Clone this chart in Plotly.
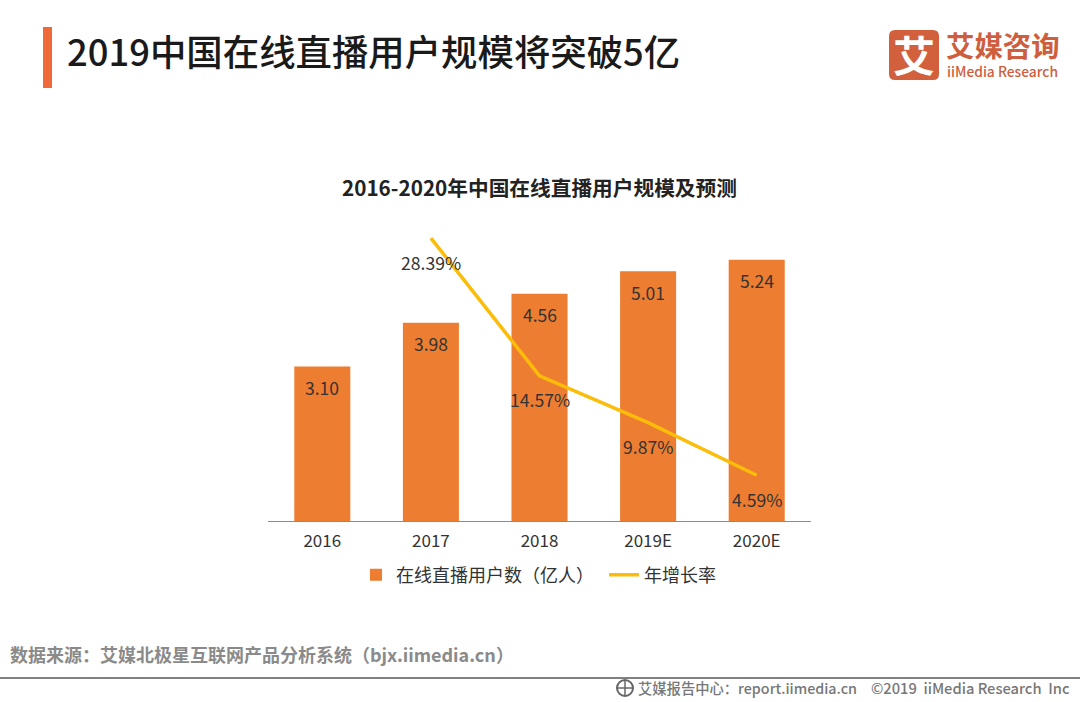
import plotly.graph_objects as go

categories = ["2016", "2017", "2018", "2019E", "2020E"]
users = [3.10, 3.98, 4.56, 5.01, 5.24]
growth = [None, 28.39, 14.57, 9.87, 4.59]
bar_name = "在线直播用户数（亿人）"
line_name = "年增长率"
FONT = "Noto Sans CJK SC"
W, H = 1080, 702
L, R, T, B = 268, 811, 222, 521


def px(x):
    return (x - L) / (R - L)


def py(y):
    return (B - y) / (B - T)


fig = go.Figure()
fig.add_trace(go.Bar(x=categories, y=users, name=bar_name, marker_color="#ED7D31",
                     marker_line_width=0, yaxis="y", hoverinfo="skip"))
fig.add_trace(go.Scatter(x=categories, y=growth, name=line_name, mode="lines",
                         line=dict(color="#FBBC0A", width=3.5), yaxis="y2", hoverinfo="skip"))

ann = []
for i, v in enumerate(users):
    ann.append(dict(x=i, y=v, xref="x", yref="y", text=f"{v:.2f}", showarrow=False, yshift=-21,
                    font=dict(size=17.5, color="#333333", family=FONT)))
for i, v in enumerate(growth):
    if v is not None:
        ann.append(dict(x=i, y=v, xref="x", yref="y2", text=f"{v:.2f}%", showarrow=False, yshift=-24,
                        font=dict(size=17.6, color="#333333", family=FONT)))


def label(x, y, text, size, color, anchor="left", weight=400):
    ann.append(dict(x=px(x), y=py(y), xref="paper", yref="paper", text=text, showarrow=False,
                    xanchor=anchor, yanchor="middle",
                    font=dict(size=size, color=color, family=FONT, weight=weight)))


label(65, 50, "2019中国在线直播用户规模将突破5亿", 36.4, "#1a1a1a", weight=500)
label(539, 187, "2016-2020年中国在线直播用户规模及预测", 20.7, "#222222", "center", 700)
label(8, 654, "数据来源：艾媒北极星互联网产品分析系统（bjx.iimedia.cn）", 18, "#8a8a8a", weight=700)
label(636, 687, "艾媒报告中心：report.iimedia.cn", 14.3, "#777777", weight=500)
label(869, 687, "©2019  iiMedia Research  Inc", 14.7, "#777777", weight=500)
label(914, 54, "艾", 42, "#ffffff", "center", 700)
label(944, 45, "艾媒咨询", 28.4, "#CF5E3E", weight=700)
label(945, 71, "iiMedia Research", 13.8, "#CF5E3E", weight=500)

# rounded logo tile
lx0, lx1, ly0, ly1, rr = px(889), px(939), py(80), py(30), 6
rx, ry = rr / (R - L), rr / (B - T)
logo_path = (f"M{lx0 + rx},{ly0} L{lx1 - rx},{ly0} Q{lx1},{ly0} {lx1},{ly0 + ry} "
             f"L{lx1},{ly1 - ry} Q{lx1},{ly1} {lx1 - rx},{ly1} "
             f"L{lx0 + rx},{ly1} Q{lx0},{ly1} {lx0},{ly1 - ry} "
             f"L{lx0},{ly0 + ry} Q{lx0},{ly0} {lx0 + rx},{ly0} Z")

shapes = [
    dict(type="rect", xref="paper", yref="paper", x0=px(43), x1=px(52), y0=py(88), y1=py(27),
         fillcolor="#F0693A", line_width=0),
    dict(type="path", xref="paper", yref="paper", path=logo_path, fillcolor="#D2603C", line_width=0),
    dict(type="line", xref="paper", yref="paper", x0=px(0), x1=px(W), y0=py(678), y1=py(678),
         line=dict(color="#808080", width=2)),
    dict(type="circle", xref="paper", yref="paper", x0=px(617), x1=px(633), y0=py(696), y1=py(680),
         line=dict(color="#666666", width=2)),
    dict(type="line", xref="paper", yref="paper", x0=px(625), x1=px(625), y0=py(696), y1=py(680),
         line=dict(color="#666666", width=1.5)),
    dict(type="line", xref="paper", yref="paper", x0=px(617), x1=px(633), y0=py(688), y1=py(688),
         line=dict(color="#666666", width=1.5)),
]

fig.update_layout(
    width=W, height=H,
    margin=dict(l=L, r=W - R, t=T, b=H - B, pad=0),
    paper_bgcolor="#ffffff", plot_bgcolor="#ffffff",
    bargap=0.484,
    showlegend=True,
    legend=dict(orientation="h", x=px(356), xanchor="left", y=py(575), yanchor="middle",
                entrywidth=203, entrywidthmode="pixels",
                font=dict(size=18, color="#333333", family=FONT), bgcolor="rgba(0,0,0,0)"),
    xaxis=dict(type="category", categoryorder="array", categoryarray=categories, range=[-0.5, 4.5],
               showgrid=False, zeroline=False, ticklabelstandoff=5,
               showline=True, linecolor="#8c8c8c", linewidth=1, ticks="",
               tickfont=dict(size=17, color="#333333", family=FONT)),
    yaxis=dict(range=[0, 6], visible=False, showgrid=False, zeroline=False),
    yaxis2=dict(range=[0, 30], visible=False, overlaying="y", side="right", showgrid=False, zeroline=False),
    annotations=ann, shapes=shapes,
)
fig.write_html("out.html", config={"displayModeBar": False},
               post_script="document.body.style.margin='0';document.body.style.overflow='hidden';")
